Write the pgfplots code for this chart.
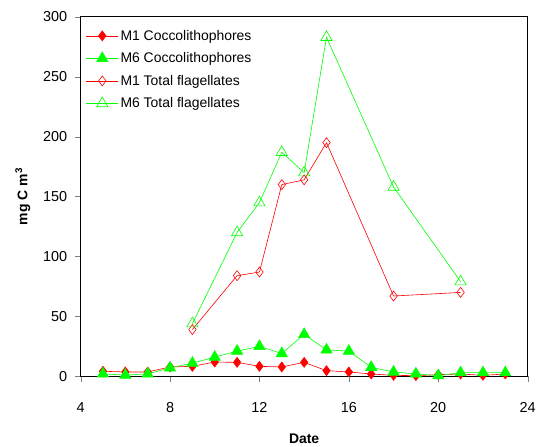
\documentclass[border=0pt]{standalone}
\usepackage{pgfplots}
\pgfplotsset{compat=1.18}
\usepackage{fontspec}
\setmainfont{Liberation Sans}
\begin{document}
\begin{tikzpicture}
\begin{axis}[
  scale only axis, width=449pt, height=361pt,
  xmin=4, xmax=24, ymin=0, ymax=300,
  xtick={4,8,...,24}, ytick={0,50,...,300},
  tick align=outside, tick pos=left,
  major tick length=6pt,
  /pgf/number format/assume math mode=true,
  ticklabel style={font=\fontsize{14.5}{16}\selectfont},
  xticklabel style={yshift=-17pt},
  yticklabel style={xshift=-4pt},
  xlabel={\bfseries Date}, ylabel={\bfseries mg C m$^{\mathbf{3}}$},
  xlabel style={font=\fontsize{14}{16}\selectfont, yshift=-14pt},
  ylabel style={font=\fontsize{14}{16}\selectfont, yshift=6pt},
  axis line style={line width=0.9pt},
  legend style={draw=none, fill=none, at={(0.005,0.975)}, anchor=north west, font=\fontsize{14}{16}\selectfont, row sep=7pt},
  legend cell align=left,
  legend image code/.code={\draw[mark repeat=2,mark phase=2] plot coordinates {(0pt,0pt)(16pt,0pt)(32pt,0pt)};},
  clip=false,
]
\addplot[red, line width=0.6pt, mark=diamond*, mark size=5pt, mark options={fill=red}] coordinates {
(5,4.2)(6,3.6)(7,3.6)(8,7.8)(9,8.3)(10,11.9)(11,11.6)(12,8.3)(13,7.8)(14,11.6)(15,4.7)(16,3.6)(17,1.9)(18,0.8)(19,0.5)(20,1.4)(21,1.9)(22,0.8)(23,1.9)};
\addlegendentry{M1 Coccolithophores}
\addplot[green, line width=0.6pt, mark=triangle*, mark size=6.5pt, mark options={fill=green}] coordinates {
(5,2)(6,1)(7,2)(8,7)(9,11)(10,16)(11,21)(12,25)(13,19)(14,35)(15,22)(16,21)(17,7.5)(18,3.6)(19,2)(20,0.5)(21,3)(22,3)(23,3)};
\addlegendentry{M6 Coccolithophores}
\addplot[red, line width=0.6pt, mark=diamond, mark size=5pt, mark options={fill=white}] coordinates {
(9,39)(11,84)(12,87)(13,160)(14,164)(15,195)(18,67)(21,70)};
\addlegendentry{M1 Total flagellates}
\addplot[green, line width=0.6pt, mark=triangle, mark size=6.5pt, mark options={fill=white}] coordinates {
(9,44)(11,120)(12,145)(13,187)(14,170)(15,283)(18,158)(21,79)};
\addlegendentry{M6 Total flagellates}
\path[use as bounding box] (rel axis cs:-0.1804,-0.1911) rectangle (rel axis cs:1.02,1.047);
\end{axis}
\end{tikzpicture}
\end{document}
